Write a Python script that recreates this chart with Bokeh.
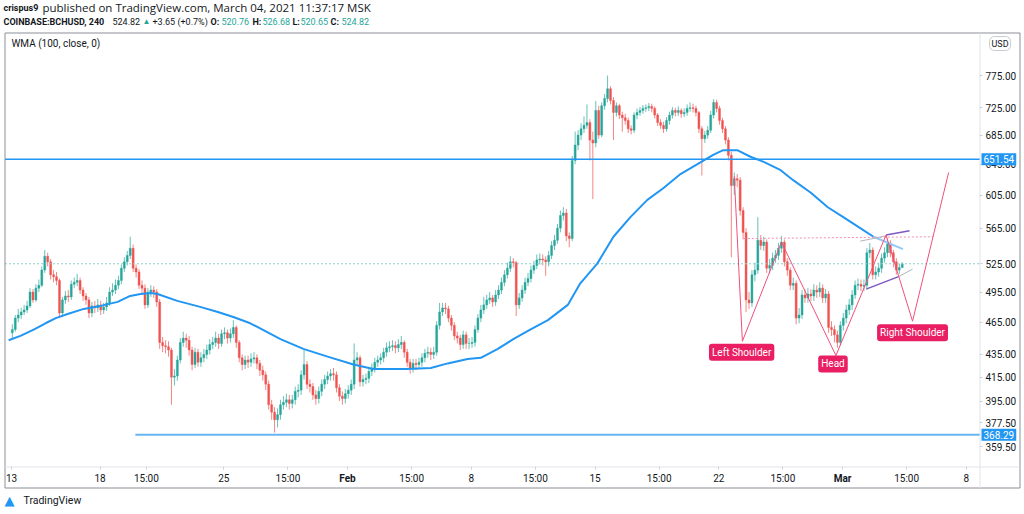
import numpy as np
from bokeh.plotting import figure
from bokeh.models import (Range1d, FixedTicker, Label, ColumnDataSource,
                          NumeralTickFormatter, LinearAxis, Arrow)
from bokeh.embed import file_html
from bokeh.resources import INLINE

# ---------------- data (BCHUSD, 4h candles, Coinbase) ----------------
first_open = 455.0
first_candle_hour = -1      # hours since 2021-01-13 00:00 (MSK) of the first candle open
candle_hours = 4

close = [
    458, 469, 472, 475, 477, 481, 495, 487, 499, 502,
    518, 533, 527, 513, 511, 507, 474, 487, 491, 490,
    503, 505, 507, 497, 491, 487, 474, 481, 479, 482,
    477, 480, 484, 495, 497, 502, 507, 520, 527, 534,
    542, 520, 516, 502, 499, 482, 495, 497, 495, 485,
    446, 443, 442, 439, 415, 416, 430, 446, 450, 448,
    439, 426, 437, 428, 432, 435, 439, 444, 446, 450,
    445, 454, 455, 450, 454, 460, 446, 432, 426, 430,
    428, 431, 432, 427, 421, 417, 409, 392, 386, 380,
    384, 392, 394, 396, 393, 396, 403, 404, 417, 426,
    409, 407, 400, 397, 403, 409, 413, 416, 418, 417,
    406, 399, 397, 401, 404, 409, 430, 432, 411, 413,
    414, 420, 423, 428, 430, 432, 437, 441, 442, 443,
    441, 444, 446, 437, 428, 423, 427, 426, 428, 432,
    436, 437, 435, 437, 462, 475, 479, 478, 469, 462,
    452, 450, 444, 453, 445, 445, 446, 458, 469, 477,
    482, 487, 489, 485, 492, 497, 505, 513, 520, 527,
    526, 482, 489, 497, 505, 509, 518, 523, 529, 530,
    529, 527, 534, 545, 551, 565, 580, 583, 556, 553,
    650, 671, 685, 694, 699, 703, 678, 674, 721, 685,
    728, 739, 754, 736, 718, 728, 714, 710, 706, 694,
    692, 714, 718, 721, 724, 725, 727, 724, 714, 703,
    699, 694, 706, 714, 721, 718, 721, 716, 718, 724,
    725, 724, 718, 694, 680, 685, 692, 714, 733, 724,
    706, 694, 678, 657, 617, 626, 624, 586, 560, 487,
    484, 513, 518, 551, 545, 549, 520, 523, 531, 534,
    542, 549, 527, 518, 502, 504, 469, 472, 492, 489,
    493, 491, 497, 495, 499, 489, 493, 460, 458, 453,
    446, 462, 469, 477, 482, 492, 502, 503, 501, 502,
    537, 540, 513, 516, 520, 531, 537, 547, 537, 527,
    518, 520.76, 524.82,
]

high = [
    463, 472, 478, 479, 482, 486, 499, 498, 503, 508,
    522, 540, 537, 530, 518, 516, 509, 490, 496, 497,
    507, 510, 514, 510, 500, 494, 490, 485, 486, 488,
    486, 484, 490, 500, 504, 508, 512, 524, 532, 539,
    555, 546, 524, 519, 507, 503, 499, 502, 501, 498,
    488, 451, 448, 447, 441, 422, 434, 450, 456, 454,
    452, 442, 441, 440, 437, 440, 444, 449, 451, 456,
    454, 458, 460, 458, 459, 467, 462, 448, 435, 434,
    434, 436, 437, 435, 430, 425, 420, 412, 396, 390,
    389, 396, 399, 401, 400, 400, 407, 409, 421, 439,
    429, 413, 410, 404, 407, 413, 417, 420, 422, 423,
    420, 409, 403, 405, 408, 413, 445, 437, 434, 417,
    418, 424, 427, 432, 434, 436, 441, 446, 447, 448,
    447, 449, 452, 448, 440, 431, 431, 431, 432, 436,
    440, 442, 441, 442, 466, 484, 484, 484, 481, 472,
    465, 456, 453, 457, 456, 450, 451, 462, 473, 482,
    490, 492, 495, 492, 497, 502, 510, 518, 526, 533,
    531, 528, 494, 502, 510, 515, 523, 528, 535, 536,
    535, 533, 539, 550, 557, 570, 586, 590, 588, 560,
    656, 690, 692, 702, 712, 730, 708, 690, 735, 728,
    733, 746, 775, 758, 741, 733, 731, 719, 716, 710,
    699, 718, 724, 726, 729, 730, 732, 731, 727, 717,
    708, 704, 711, 719, 726, 725, 727, 724, 724, 730,
    733, 731, 728, 720, 698, 691, 698, 720, 738, 737,
    728, 710, 698, 682, 662, 634, 632, 628, 590, 565,
    495, 518, 526, 578, 557, 555, 552, 530, 537, 540,
    548, 556, 552, 531, 521, 510, 507, 479, 497, 498,
    499, 498, 503, 502, 505, 503, 498, 496, 466, 462,
    457, 466, 474, 482, 488, 497, 507, 509, 508, 508,
    542, 548, 543, 522, 526, 536, 543, 553, 551, 540,
    531, 525, 526.68,
]

low = [
    450, 456, 465, 468, 472, 474, 479, 484, 485, 495,
    500, 515, 522, 508, 505, 502, 470, 470, 483, 485,
    487, 499, 501, 493, 486, 482, 469, 470, 474, 475,
    472, 473, 476, 481, 491, 493, 498, 503, 516, 523,
    530, 516, 510, 498, 494, 478, 479, 490, 489, 480,
    440, 437, 436, 433, 392, 408, 412, 427, 442, 441,
    434, 421, 423, 424, 424, 428, 431, 435, 440, 442,
    440, 442, 449, 445, 446, 450, 441, 428, 421, 422,
    423, 424, 427, 422, 416, 412, 404, 388, 380, 370,
    374, 380, 388, 390, 388, 389, 392, 398, 400, 413,
    405, 402, 396, 392, 393, 399, 405, 409, 412, 412,
    402, 395, 392, 393, 397, 400, 405, 425, 407, 407,
    409, 410, 416, 419, 424, 426, 428, 433, 437, 438,
    436, 437, 440, 432, 424, 418, 419, 421, 422, 424,
    428, 432, 430, 431, 434, 458, 471, 473, 465, 457,
    448, 445, 439, 440, 440, 440, 441, 442, 455, 465,
    473, 478, 483, 480, 481, 488, 493, 501, 509, 516,
    521, 471, 478, 485, 493, 501, 505, 514, 519, 524,
    523, 512, 522, 530, 540, 547, 560, 574, 550, 543,
    550, 645, 664, 678, 688, 694, 650, 600, 668, 680,
    682, 722, 733, 730, 678, 712, 708, 690, 700, 688,
    686, 688, 708, 713, 716, 719, 720, 718, 709, 698,
    694, 688, 690, 700, 709, 712, 713, 710, 711, 713,
    719, 718, 712, 688, 630, 674, 680, 688, 709, 718,
    700, 688, 672, 650, 532, 605, 615, 580, 552, 475,
    478, 480, 506, 514, 540, 539, 515, 514, 518, 526,
    529, 537, 522, 512, 497, 497, 463, 464, 468, 484,
    484, 486, 486, 489, 490, 484, 484, 455, 452, 446,
    441, 443, 457, 464, 472, 477, 488, 497, 496, 496,
    499, 531, 508, 508, 511, 515, 526, 532, 532, 521,
    513, 514, 520.65,
]

# WMA (100, close): hour since Jan 13 00:00, value
wma_hour = [-4, 12, 30, 46, 60, 76, 98, 121, 144, 161,
            175, 189, 198, 225, 256, 280, 301, 324, 365, 396,
            429, 464, 491, 537, 569, 592, 619, 637, 660, 681,
            704, 728, 755, 772, 795, 817, 840, 863, 885, 908,
            931, 953, 966, 985, 1003, 1021, 1044, 1061, 1085, 1108,
            1129, 1152, 1170]
wma_value = [448, 452, 458, 464, 469, 473, 478, 481, 485, 491,
             493, 494, 493, 486, 480, 475, 470, 464, 449, 440,
             433, 426, 422, 422, 423, 427, 431, 432, 440, 449,
             458, 467, 482, 504, 525, 555, 578, 599, 614, 632,
             645, 658, 664, 664, 655, 648, 637, 624, 608, 590,
             578, 565, 555]
# light-blue continuation of the average (drawing)
wma_ext_hour = [1170, 1210]
wma_ext_value = [555, 541]

resistance_level = 651.54
support_level = 368.29
support_start_hour = 168
last_price = 524.82

# inverse head & shoulders drawing (hour, price)
hs_hour = [981, 992, 1045, 1119, 1187, 1223, 1272]
hs_price = [629, 447, 549, 434, 557, 466, 634]
neck_hour = [994, 1251]
neck_price = [553, 555]
wedge_top_hour = [1187, 1219]
wedge_top_price = [557, 562]
wedge_bot_hour = [1160, 1204]
wedge_bot_price = [498, 511]
gray_top_hour = [1152, 1187]
gray_top_price = [550, 556]
gray_bot_hour = [1204, 1223]
gray_bot_price = [511, 519]

pattern_labels = ["Left Shoulder", "Head", "Right Shoulder"]
pattern_label_hour = [991, 1115, 1223]
pattern_label_price = [437, 426.5, 455]

x_tick_hours = [0, 120, 183, 288, 375, 543, 624, 711, 792, 879, 960, 1047, 1215, 1296]
x_tick_labels = ["13", "18", "15:00", "25", "15:00", "15:00", "8", "15:00", "15",
                 "15:00", "22", "15:00", "15:00", "8"]
month_tick_hours = [456, 1128]
month_tick_labels = ["Feb", "Mar"]
y_ticks = [359.5, 377.5, 395, 415, 435, 465, 495, 525, 565, 605, 645, 685, 725, 775]

# ---------------- derived ----------------
n = len(close)
opens = [first_open] + close[:-1]
xh = first_candle_hour + candle_hours * np.arange(n) + candle_hours / 2
UP, DOWN = "#26a69a", "#ef5350"
colors = [UP if c >= o else DOWN for o, c in zip(opens, close)]
src = ColumnDataSource(dict(
    x=xh, top=np.maximum(opens, close), bottom=np.minimum(opens, close),
    high=high, low=low, color=colors))

# layout calibration (page pixels -> data coordinates), used for frame/texts placement
X0_PX, PX_PER_DAY = 11.1, 17.68
def hx(px):
    return float((px - X0_PX) * 24.0 / PX_PER_DAY)
def py(pyy):
    return float(775.0 * np.exp(-(pyy - 75.0) / 483.0))

W, H = 1024, 514
CH_L, CH_R, CH_T, CH_B = 4.5, 979.5, 32.5, 466.5     # chart pane edges (px)
OUT_R, OUT_B = 1019.5, 487.5                         # outer border (px)
FONT = "Roboto"
INK = "#131722"

p = figure(width=W, height=H, output_backend="svg", toolbar_location=None,
           y_axis_type="log", y_axis_location="right",
           x_range=Range1d(hx(0), hx(W)), y_range=Range1d(py(H), py(0)),
           min_border_left=0, min_border_right=0, min_border_top=0, min_border_bottom=0)
p.background_fill_color = "white"
p.border_fill_color = "white"
p.outline_line_color = None
p.grid.visible = False

def style_axis(ax, bold=False):
    ax.axis_line_color = None
    ax.major_tick_line_color = "#c8cad1"
    ax.major_tick_out = 3
    ax.major_tick_in = 0
    ax.minor_tick_line_color = None
    ax.major_label_text_font = FONT
    ax.major_label_text_font_size = "10px"
    ax.major_label_text_color = INK
    ax.major_label_standoff = 3
    if bold:
        ax.major_label_text_font_style = "bold"

xa = p.xaxis[0]
xa.fixed_location = py(466)
xa.ticker = FixedTicker(ticks=x_tick_hours, minor_ticks=[])
xa.major_label_overrides = {h: s for h, s in zip(x_tick_hours, x_tick_labels)}
style_axis(xa)

xm = LinearAxis(fixed_location=py(466),
                ticker=FixedTicker(ticks=month_tick_hours, minor_ticks=[]),
                major_label_overrides={h: s for h, s in zip(month_tick_hours, month_tick_labels)})
style_axis(xm, bold=True)
p.add_layout(xm, "below")

ya = p.yaxis[0]
ya.fixed_location = hx(979)
ya.ticker = FixedTicker(ticks=y_ticks, minor_ticks=[])
ya.formatter = NumeralTickFormatter(format="0.00")
style_axis(ya)

# candles
p.segment("x", "high", "x", "low", source=src, line_color="color", line_alpha=0.7, line_width=1)
p.vbar(x="x", width=2.7, top="top", bottom="bottom", source=src,
       fill_color="color", line_color="color", line_width=0.4)

# price line, resistance, support
p.segment(x0=[hx(CH_L)], y0=[last_price], x1=[hx(CH_R)], y1=[last_price],
          line_color="#8fd0cb", line_dash="2 2", line_width=1)
p.segment(x0=[hx(CH_L)], y0=[resistance_level], x1=[hx(CH_R)], y1=[resistance_level],
          line_color="#2196f3", line_width=1.5)
p.segment(x0=[support_start_hour], y0=[support_level], x1=[hx(CH_R)], y1=[support_level],
          line_color="#6ab4f2", line_width=2)

# WMA
p.line(wma_hour, wma_value, line_color="#2196f3", line_width=2)
p.line(wma_ext_hour, wma_ext_value, line_color="#90caf9", line_width=2)

# pattern drawing
p.line(neck_hour, neck_price, line_color="#f48fb1", line_dash="2 2", line_width=1)
p.line(gray_top_hour, gray_top_price, line_color="#b2b5be", line_width=1)
p.line(gray_bot_hour, gray_bot_price, line_color="#b2b5be", line_width=1)
p.line(wedge_top_hour, wedge_top_price, line_color="#7e57c2", line_width=1.5)
p.line(wedge_bot_hour, wedge_bot_price, line_color="#7e57c2", line_width=1.5)
p.line(hs_hour, hs_price, line_color="#f0507a", line_width=1)

# pane borders (layout frame lines), drawn as headless arrow annotations
def rule(x0, y0, x1, y1, color, width=1):
    p.add_layout(Arrow(x_start=hx(x0), y_start=py(y0), x_end=hx(x1), y_end=py(y1),
                       start=None, end=None, line_color=color, line_width=width))
rule(CH_L, OUT_B, CH_L, CH_T, "#8c8f98")          # left
rule(CH_L, CH_T, OUT_R, CH_T, "#8c8f98")          # top
rule(OUT_R, CH_T, OUT_R, OUT_B, "#8c8f98")        # right
rule(CH_L, OUT_B, OUT_R, OUT_B, "#8c8f98")        # bottom
rule(CH_R, CH_T, CH_R, OUT_B, "#e0e3eb")          # price-scale separator
rule(CH_L, CH_B, OUT_R, CH_B, "#e0e3eb")          # time-scale separator

for t, hh, pp in zip(pattern_labels, pattern_label_hour, pattern_label_price):
    p.add_layout(Label(x=hh, y=pp, text=t, text_align="center", text_baseline="middle",
                       text_color="white", text_font=FONT, text_font_size="10px",
                       background_fill_color="#e91e63", border_radius=3, padding=3))

def lab(px, pyy, text, color=INK, style="normal", size="10.5px", font=FONT, **kw):
    p.add_layout(Label(x=hx(px), y=py(pyy), text=text, text_color=color, text_font=font,
                       text_font_style=style, text_font_size=size, text_baseline="middle",
                       text_align="left", **kw))

# indicator title
lab(11, 43, "WMA (100, close, 0)", size="10px")

# header lines
TEAL = "#26a69a"
lab(3, 7, "crispus9", style="bold", size="9px")
lab(42, 7, "published on TradingView.com, March 04, 2021 11:37:17 MSK", size="11.5px", font="Open Sans")
lab(3, 21, "COINBASE:BCHUSD, 240", style="bold", size="9px")
lab(112, 21, "524.82", size="9px")
lab(142, 21, "\u25B2", color=TEAL, size="8px")
lab(152, 21, "+3.65 (+0.7%)", size="9px")
lab(210, 21, "O:", style="bold", size="9px")
lab(221, 21, "520.76", color=TEAL, size="9px")
lab(252, 21, "H:", style="bold", size="9px")
lab(262, 21, "526.68", color=TEAL, size="9px")
lab(292, 21, "L:", style="bold", size="9px")
lab(300, 21, "520.65", color=TEAL, size="9px")
lab(330, 21, "C:", style="bold", size="9px")
lab(341, 21, "524.82", color=TEAL, size="9px")

# right-axis tags
for lvl in (resistance_level, support_level):
    p.add_layout(Label(x=hx(981), y=lvl, text=f"{lvl:.2f}", text_color="white", text_font=FONT,
                       text_font_size="10px", text_baseline="middle", text_align="left",
                       background_fill_color="#2196f3", padding=2))
p.add_layout(Label(x=hx(989), y=py(43), text="USD", text_color=INK, text_font=FONT,
                   text_font_size="9px", text_baseline="middle", text_align="left",
                   border_line_color="#c8cad1", border_radius=5, padding=2))

# footer logo
lab(4, 500, "\u25B2", color="#2196f3", size="13px", font="DejaVu Sans")
lab(23, 500, "TradingView", size="10.5px")

open("out.html", "w").write(file_html(p, INLINE))
